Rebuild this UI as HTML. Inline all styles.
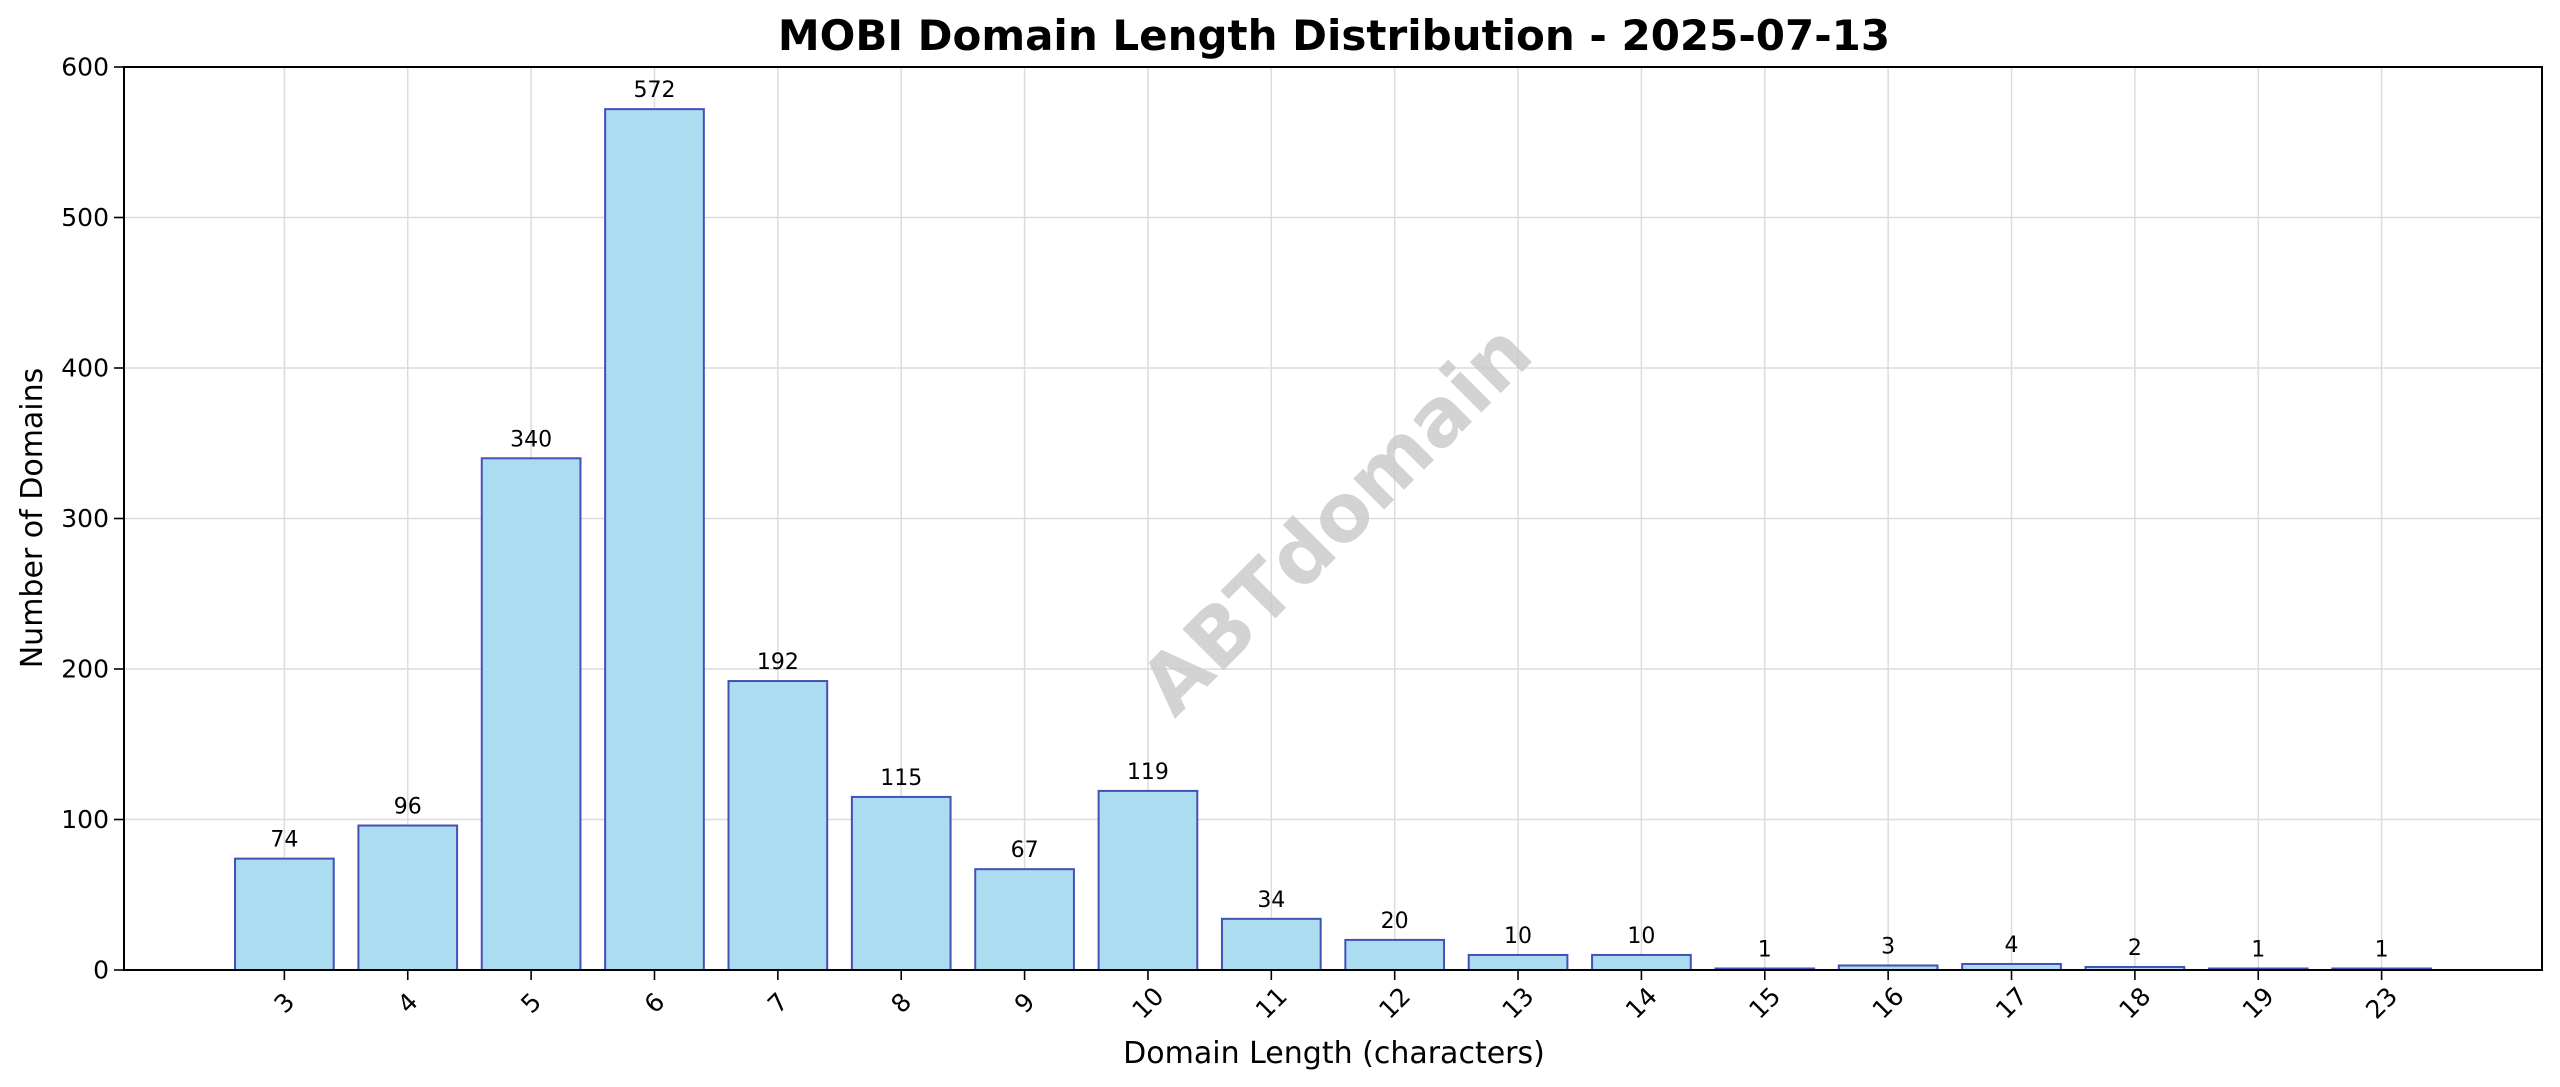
<!DOCTYPE html>
<html>
<head>
<meta charset="utf-8">
<style>
html,body{margin:0;padding:0;background:#fff;}
svg{display:block;font-family:"DejaVu Sans","Liberation Sans",sans-serif;}
</style>
</head>
<body>
<svg id="chart" width="2560" height="1087" viewBox="0 0 2560 1087" xmlns="http://www.w3.org/2000/svg">
<rect width="2560" height="1087" fill="#ffffff"/>
<g id="grid"></g>
<text x="1336" y="519" transform="rotate(-45 1336 519)" text-anchor="middle" dominant-baseline="central" font-size="80" font-weight="bold" fill="#c8c8c8" fill-opacity="0.8">ABTdomain</text>
<g id="bars"></g>
<g id="labels"></g>
<g id="axes"></g>
<text x="1334" y="50" text-anchor="middle" font-size="42" font-weight="bold" fill="#000">MOBI Domain Length Distribution - 2025-07-13</text>
<text x="1334" y="1063" text-anchor="middle" font-size="30" fill="#000">Domain Length (characters)</text>
<text x="42" y="518" transform="rotate(-90 42 518)" text-anchor="middle" font-size="30" fill="#000">Number of Domains</text>
</svg>
<script>
const categories = ["3","4","5","6","7","8","9","10","11","12","13","14","15","16","17","18","19","23"];
const counts = [74,96,340,572,192,115,67,119,34,20,10,10,1,3,4,2,1,1];
const yTicks = [0,100,200,300,400,500,600];

const NS = "http://www.w3.org/2000/svg";
const L = 124, R = 2542, T = 67, B = 970;
const xMin = -1.3, xMax = categories.length - 1 + 1.3;
const yMin = 0, yMax = 600;
function xs(i){ return L + (i - xMin) / (xMax - xMin) * (R - L); }
function ys(v){ return B - (v - yMin) / (yMax - yMin) * (B - T); }
function mk(tag, attrs, parent){
  const e = document.createElementNS(NS, tag);
  for (const k in attrs) e.setAttribute(k, attrs[k]);
  parent.appendChild(e);
  return e;
}
const grid = document.getElementById('grid');
const bars = document.getElementById('bars');
const labels = document.getElementById('labels');
const axes = document.getElementById('axes');
const bw = 0.8 * (xs(1) - xs(0));

yTicks.forEach(t => {
  const y = ys(t);
  const g = mk('line', {x1:L, x2:R, y1:y, y2:y, stroke:'#dcdcdc', 'stroke-width':1.5}, grid);
  
  
  const tk = mk('line', {x1:L-10, x2:L, y1:y, y2:y, stroke:'#000', 'stroke-width':1.6}, axes);
  
  
  const tx = mk('text', {x:L-15, y:y, 'text-anchor':'end', 'dominant-baseline':'central', 'font-size':25, fill:'#000'}, axes);
  tx.textContent = t;
  
  
});

categories.forEach((c, i) => {
  const x = xs(i);
  const g = mk('line', {x1:x, x2:x, y1:T, y2:B, stroke:'#dcdcdc', 'stroke-width':1.5}, grid);
  
  
  const v = counts[i];
  const bar = mk('rect', {x:x-bw/2, y:ys(v), width:bw, height:ys(0)-ys(v), fill:'#abdcef', stroke:'#4450b8', 'stroke-width':2}, bars);
  
  
  const lb = mk('text', {x:x, y:ys(v)-12, 'text-anchor':'middle', 'font-size':22, fill:'#000'}, labels);
  lb.textContent = v;
  
  
  const tk = mk('line', {x1:x, x2:x, y1:B, y2:B+10, stroke:'#000', 'stroke-width':1.6}, axes);
  
  
  const ty = B + 33;
  const tx = mk('text', {x:x, y:ty, 'text-anchor':'middle', 'dominant-baseline':'central', 'font-size':25, fill:'#000', transform:'rotate(-45 '+x+' '+ty+')'}, axes);
  tx.textContent = c;
  
  
});

const frame = mk('rect', {x:L, y:T, width:R-L, height:B-T, fill:'none', stroke:'#000', 'stroke-width':2}, axes);


</script>
</body>
</html>
